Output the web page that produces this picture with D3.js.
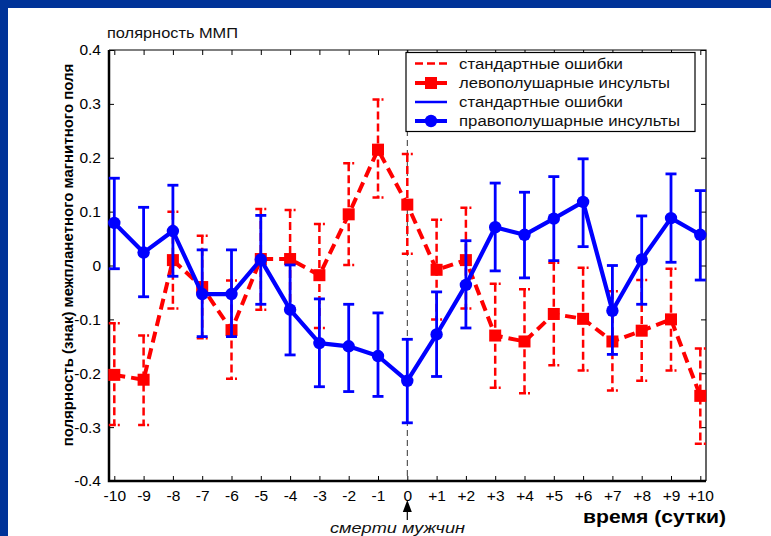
<!DOCTYPE html>
<html><head><meta charset="utf-8">
<script src="https://cdn.jsdelivr.net/npm/d3@7"></script>
<style>
html,body{margin:0;padding:0;background:#003399;}
svg{display:block;}
</style></head>
<body>
<svg id="chart" width="771" height="536"></svg>
<script>
const days = [-10,-9,-8,-7,-6,-5,-4,-3,-2,-1,0,1,2,3,4,5,6,7,8,9,10];
const xTickLabels = ["-10","-9","-8","-7","-6","-5","-4","-3","-2","-1","0","+1","+2","+3","+4","+5","+6","+7","+8","+9","+10"];
const yTicks = [0.4,0.3,0.2,0.1,0,-0.1,-0.2,-0.3,-0.4];
const yTickLabels = ["0.4","0.3","0.2","0.1","0","-0.1","-0.2","-0.3","-0.4"];

// left-hemisphere strokes (red)
const leftMean = [-0.203,-0.212,0.010,-0.040,-0.120,0.012,0.012,-0.018,0.095,0.215,0.113,-0.008,0.010,-0.130,-0.141,-0.090,-0.099,-0.141,-0.121,-0.100,-0.242];
const leftHi   = [-0.107,-0.130,0.100,0.055,-0.028,0.105,0.103,0.077,0.190,0.308,0.207,0.085,0.107,-0.034,-0.044,0.005,-0.004,-0.048,-0.027,-0.006,-0.154];
const leftLo   = [-0.296,-0.296,-0.080,-0.135,-0.210,-0.082,-0.080,-0.116,0.001,0.126,0.022,-0.100,-0.080,-0.227,-0.237,-0.185,-0.195,-0.232,-0.214,-0.195,-0.331];

// right-hemisphere strokes (blue)
const rightMean = [0.079,0.024,0.064,-0.053,-0.053,0.011,-0.082,-0.144,-0.150,-0.168,-0.214,-0.128,-0.036,0.071,0.057,0.087,0.118,-0.084,0.011,0.088,0.057];
const rightHi   = [0.162,0.108,0.149,0.029,0.029,0.093,0.001,-0.062,-0.072,-0.088,-0.137,-0.049,0.046,0.153,0.136,0.165,0.198,0.000,0.092,0.170,0.139];
const rightLo   = [-0.006,-0.058,-0.020,-0.132,-0.132,-0.072,-0.166,-0.225,-0.234,-0.243,-0.292,-0.206,-0.116,-0.010,-0.023,0.009,0.035,-0.165,-0.072,0.006,-0.027];

const legendLabels = ["стандартные ошибки","левополушарные инсульты","стандартные ошибки","правополушарные инсульты"];
const titleText = "полярность ММП";
const yLabelText = "полярность (знак) межпланетного магнитного поля";
const xLabelText = "время (сутки)";
const markerText = "смерти мужчин";

const RED = "#ff0000", BLUE = "#0000ff";
const svg = d3.select("#chart");
const FONT = "'Liberation Sans', Arial, sans-serif";

// white slide area
svg.append("rect").attr("x",8).attr("y",8).attr("width",771-8).attr("height",536-8).attr("fill","#fff");

const x = d3.scaleLinear().domain([-10,10]).range([114.3,700.3]);
const y = d3.scaleLinear().domain([-0.4,0.4]).range([481,50]);
const boxL = 109, boxR = 706, boxT = y(0.4), boxB = y(-0.4);

const data = days.map((d,i)=>({d, lm:leftMean[i], lh:leftHi[i], ll:leftLo[i], rm:rightMean[i], rh:rightHi[i], rl:rightLo[i]}));

// dashed vertical at day 0
svg.append("line").attr("x1",x(0)).attr("x2",x(0)).attr("y1",boxT).attr("y2",boxB)
  .attr("stroke","#333").attr("stroke-width",1).attr("stroke-dasharray","6,4");

// axes (ticks inward, MATLAB box)
const axB = d3.axisBottom(x).tickValues(days).tickSize(-5).tickPadding(9).tickFormat((d,i)=>xTickLabels[i]);
const axT = d3.axisTop(x).tickValues(days).tickSize(-5).tickFormat("");
const axL = d3.axisLeft(y).tickValues(yTicks).tickSize(-5).tickPadding(8).tickFormat((d,i)=>yTickLabels[i]);
const axR = d3.axisRight(y).tickValues(yTicks).tickSize(-5).tickFormat("");

function styleAxis(g){
  g.select(".domain").remove();
  g.selectAll(".tick line").attr("stroke","#000").attr("stroke-width",1);
  g.selectAll("text").attr("font-family",FONT).attr("font-size",15.5).attr("fill","#000");
}
svg.append("g").attr("transform",`translate(0,${boxB})`).call(axB).call(styleAxis);
svg.append("g").attr("transform",`translate(0,${boxT})`).call(axT).call(styleAxis);
svg.append("g").attr("transform",`translate(${boxL},0)`).call(axL).call(styleAxis);
svg.append("g").attr("transform",`translate(${boxR},0)`).call(axR).call(styleAxis);

// box
svg.append("path").attr("d",`M${boxL},${boxT}V${boxB}H${boxR}`).attr("fill","none").attr("stroke","#000").attr("stroke-width",2.5);
svg.append("path").attr("d",`M${boxL},${boxT}H${boxR}V${boxB}`).attr("fill","none").attr("stroke","#000").attr("stroke-width",1.2);

// red error bars
const cap = 5.5;
const redErr = svg.append("g").attr("stroke",RED).attr("stroke-width",2.5).attr("fill","none").attr("stroke-dasharray","8,4");
data.forEach(p=>{
  redErr.append("path").attr("d",`M${x(p.d)},${y(p.lh)}V${y(p.ll)}`);
  redErr.append("path").attr("d",`M${x(p.d)-cap},${y(p.lh)}H${x(p.d)+cap}`).attr("stroke-dasharray","7,2");
  redErr.append("path").attr("d",`M${x(p.d)-cap},${y(p.ll)}H${x(p.d)+cap}`).attr("stroke-dasharray","7,2");
});
// red line
svg.append("path").datum(data).attr("fill","none").attr("stroke",RED).attr("stroke-width",4)
  .attr("stroke-dasharray","11,6")
  .attr("d",d3.line().x(p=>x(p.d)).y(p=>y(p.lm)));
svg.append("g").selectAll("rect").data(data).join("rect")
  .attr("x",p=>x(p.d)-6).attr("y",p=>y(p.lm)-6).attr("width",12).attr("height",12).attr("fill",RED);

// blue error bars
const blueErr = svg.append("g").attr("stroke",BLUE).attr("stroke-width",2.8).attr("fill","none");
data.forEach(p=>{
  blueErr.append("path").attr("d",`M${x(p.d)},${y(p.rh)}V${y(p.rl)}`);
  blueErr.append("path").attr("d",`M${x(p.d)-cap},${y(p.rh)}H${x(p.d)+cap}`);
  blueErr.append("path").attr("d",`M${x(p.d)-cap},${y(p.rl)}H${x(p.d)+cap}`);
});
svg.append("path").datum(data).attr("fill","none").attr("stroke",BLUE).attr("stroke-width",4.2)
  .attr("stroke-linejoin","round")
  .attr("d",d3.line().x(p=>x(p.d)).y(p=>y(p.rm)));
svg.append("g").selectAll("circle").data(data).join("circle")
  .attr("cx",p=>x(p.d)).attr("cy",p=>y(p.rm)).attr("r",6.2).attr("fill",BLUE);

// legend
const lg = svg.append("g");
lg.append("rect").attr("x",406).attr("y",52.5).attr("width",289).attr("height",79)
  .attr("fill","#fff").attr("stroke","#000").attr("stroke-width",1.2);
const rowsY = [63.5,83,102,121];
const legendLens = [164,211,164,221];
const sx1 = 415, sx2 = 447;
lg.append("line").attr("x1",sx1).attr("x2",sx2).attr("y1",rowsY[0]).attr("y2",rowsY[0])
  .attr("stroke",RED).attr("stroke-width",2.5).attr("stroke-dasharray","8,4");
lg.append("line").attr("x1",sx1).attr("x2",sx2).attr("y1",rowsY[1]).attr("y2",rowsY[1])
  .attr("stroke",RED).attr("stroke-width",4);
lg.append("rect").attr("x",(sx1+sx2)/2-6).attr("y",rowsY[1]-6).attr("width",12).attr("height",12).attr("fill",RED);
lg.append("line").attr("x1",sx1).attr("x2",sx2).attr("y1",rowsY[2]).attr("y2",rowsY[2])
  .attr("stroke",BLUE).attr("stroke-width",2.5);
lg.append("line").attr("x1",sx1).attr("x2",sx2).attr("y1",rowsY[3]).attr("y2",rowsY[3])
  .attr("stroke",BLUE).attr("stroke-width",4);
lg.append("circle").attr("cx",(sx1+sx2)/2).attr("cy",rowsY[3]).attr("r",6.2).attr("fill",BLUE);
legendLabels.forEach((t,i)=>{
  lg.append("text").attr("x",459).attr("y",rowsY[i]).attr("dy","0.35em")
    .attr("textLength",legendLens[i]).attr("lengthAdjust","spacingAndGlyphs")
    .attr("font-family",FONT).attr("font-size",15.5).attr("fill","#111").text(t);
});

// titles
svg.append("text").attr("x",107).attr("y",38).attr("font-family",FONT).attr("font-size",15.5)
  .attr("textLength",131).attr("lengthAdjust","spacingAndGlyphs")
  .attr("fill","#111").text(titleText);
svg.append("text").attr("transform","translate(73,255) rotate(-90)").attr("text-anchor","middle")
  .attr("font-family",FONT).attr("font-size",15).attr("font-weight","bold").attr("fill","#000").text(yLabelText);
svg.append("text").attr("x",583).attr("y",523)
  .attr("textLength",143).attr("lengthAdjust","spacingAndGlyphs")
  .attr("font-family",FONT).attr("font-size",18.5).attr("font-weight","bold").attr("fill","#000").text(xLabelText);

// arrow marking day 0
svg.append("line").attr("x1",x(0)).attr("x2",x(0)).attr("y1",520).attr("y2",508).attr("stroke","#000").attr("stroke-width",1.2);
svg.append("path").attr("d",`M${x(0)},${500}L${x(0)-4.5},${512}L${x(0)+4.5},${512}Z`).attr("fill","#000");
svg.append("text").attr("x",330).attr("y",532.5)
  .attr("textLength",135).attr("lengthAdjust","spacingAndGlyphs")
  .attr("font-family",FONT).attr("font-size",15.5).attr("font-style","italic").attr("fill","#111").text(markerText);
</script>
</body></html>
